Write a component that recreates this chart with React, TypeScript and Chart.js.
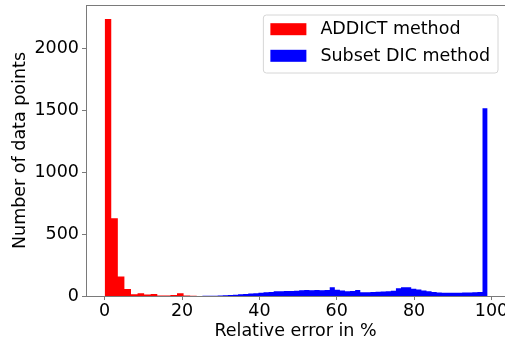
import { useEffect, useRef } from "react";
import { Chart, registerables } from "chart.js";

Chart.register(...registerables);

const RED_LABEL = "ADDICT method";
const BLUE_LABEL = "Subset DIC method";
const X_LABEL = "Relative error in %";
const Y_LABEL = "Number of data points";

// histogram bins (left edge of first bin and bin width, in %)
const RED_BIN_START = 0;
const RED_BIN_WIDTH = 1.7;
const RED_COUNTS = [2235, 628, 158, 57, 14, 22, 12, 16, 5, 5, 8, 22, 4, 2, 1];

const BLUE_BIN_START = 20;
const BLUE_BIN_WIDTH = 1.3167;
const BLUE_COUNTS = [
  0, 0, 0, 0, 2, 2, 3, 4, 6, 9,
  10, 14, 16, 20, 22, 26, 30, 32, 38, 38,
  40, 40, 42, 46, 48, 46, 48, 46, 48, 70,
  50, 44, 38, 40, 48, 30, 30, 32, 34, 36,
  38, 42, 62, 70, 70, 58, 52, 44, 38, 32,
  28, 26, 26, 27, 27, 28, 29, 30, 32, 1515,
];

const X_TICKS = [0, 20, 40, 60, 80, 100];
const Y_TICKS = [0, 500, 1000, 1500, 2000];

const X_MIN = -4.83;
const X_MAX = 103.5;
const Y_MAX = 2347;

const RED = "#ff0000";
const BLUE = "#0000ff";
const SPINE = "#7a7a7a";
const FONT_FAMILY = '"DejaVu Sans", sans-serif';
const FONT_SIZE = 17.5;

// outline of the histogram bars: each bin contributes its two top corners
function histPoints(start: number, width: number, counts: number[]) {
  const pts: { x: number; y: number }[] = [{ x: start, y: 0 }];
  counts.forEach((c, i) => {
    pts.push({ x: start + i * width, y: c });
    pts.push({ x: start + (i + 1) * width, y: c });
  });
  pts.push({ x: start + counts.length * width, y: 0 });
  return pts;
}

const frameLegendPlugin = {
  id: "frameLegend",
  afterDraw(chart: any) {
    const { ctx, chartArea } = chart;
    ctx.save();
    // top spine
    ctx.strokeStyle = SPINE;
    ctx.lineWidth = 1;
    ctx.beginPath();
    ctx.moveTo(chartArea.left, chartArea.top + 0.5);
    ctx.lineTo(chartArea.right, chartArea.top + 0.5);
    ctx.stroke();

    // legend (matplotlib style, upper right inside axes)
    ctx.font = `${FONT_SIZE}px ${FONT_FAMILY}`;
    const items = chart.data.datasets.map((d: any) => ({
      label: d.label as string,
      color: d.backgroundColor as string,
    }));
    const maxW = Math.max(...items.map((it: any) => ctx.measureText(it.label).width));
    const padL = 7;
    const patchW = 36;
    const patchH = 12;
    const gap = 14;
    const padR = 8;
    const w = padL + patchW + gap + maxW + padR;
    const h = 58;
    const right = chartArea.right - 7;
    const left = right - w;
    const top = chartArea.top + 10;
    const r = 3;
    ctx.beginPath();
    ctx.moveTo(left + r, top);
    ctx.lineTo(left + w - r, top);
    ctx.arcTo(left + w, top, left + w, top + r, r);
    ctx.lineTo(left + w, top + h - r);
    ctx.arcTo(left + w, top + h, left + w - r, top + h, r);
    ctx.lineTo(left + r, top + h);
    ctx.arcTo(left, top + h, left, top + h - r, r);
    ctx.lineTo(left, top + r);
    ctx.arcTo(left, top, left + r, top, r);
    ctx.closePath();
    ctx.fillStyle = "rgba(255,255,255,0.8)";
    ctx.fill();
    ctx.strokeStyle = "#d6d6d6";
    ctx.lineWidth = 1;
    ctx.stroke();

    const rowCenters = [top + 14.2, top + 40.8];
    items.forEach((it: any, i: number) => {
      const cy = rowCenters[i];
      ctx.fillStyle = it.color;
      ctx.fillRect(left + padL, cy - patchH / 2, patchW, patchH);
      ctx.fillStyle = "#000000";
      ctx.textAlign = "left";
      ctx.textBaseline = "middle";
      ctx.fillText(it.label, left + padL + patchW + gap, cy + 0.5);
    });
    ctx.restore();
  },
};

export default function App() {
  const canvasRef = useRef<HTMLCanvasElement | null>(null);

  useEffect(() => {
    document.body.style.margin = "0";
    const canvas = canvasRef.current;
    if (!canvas) return;
    const font = { family: FONT_FAMILY, size: FONT_SIZE };
    const chart = new Chart(canvas, {
      type: "line",
      data: {
        datasets: [
          {
            label: RED_LABEL,
            data: histPoints(RED_BIN_START, RED_BIN_WIDTH, RED_COUNTS),
            fill: "origin",
            tension: 0,
            backgroundColor: RED,
            borderColor: "rgba(0,0,0,0)",
            borderWidth: 0,
            pointRadius: 0,
          },
          {
            label: BLUE_LABEL,
            data: histPoints(BLUE_BIN_START, BLUE_BIN_WIDTH, BLUE_COUNTS),
            fill: "origin",
            tension: 0,
            backgroundColor: BLUE,
            borderColor: "rgba(0,0,0,0)",
            borderWidth: 0,
            pointRadius: 0,
          },
        ],
      },
      options: {
        animation: false,
        responsive: false,
        maintainAspectRatio: false,
        layout: { padding: { top: 5, right: 0, bottom: 0, left: 0 } },
        plugins: {
          legend: { display: false },
          tooltip: { enabled: false },
        },
        scales: {
          x: {
            type: "linear",
            min: X_MIN,
            max: X_MAX,
            afterBuildTicks: (s: any) => {
              s.ticks = X_TICKS.map((v) => ({ value: v }));
            },
            afterFit: (s: any) => {
              s.height = 49;
              s.paddingRight = 0;
              s.paddingLeft = 0;
            },
            ticks: {
              font,
              color: "#000000",
              padding: 1,
              maxRotation: 0,
              includeBounds: false,
              callback: (v: any) => String(v),
            },
            grid: {
              display: true,
              drawOnChartArea: false,
              drawTicks: true,
              tickLength: 4,
              tickColor: SPINE,
            },
            border: { display: true, color: SPINE, width: 1 },
            title: {
              display: true,
              text: X_LABEL,
              font,
              color: "#000000",
              padding: { top: 0, bottom: 3 },
            },
          },
          y: {
            type: "linear",
            min: 0,
            max: Y_MAX,
            afterBuildTicks: (s: any) => {
              s.ticks = Y_TICKS.map((v) => ({ value: v }));
            },
            afterFit: (s: any) => {
              s.width = 86;
              s.paddingTop = 0;
              s.paddingBottom = 0;
            },
            ticks: {
              font,
              color: "#000000",
              padding: 3,
              includeBounds: false,
              callback: (v: any) => String(v),
            },
            grid: {
              display: true,
              drawOnChartArea: false,
              drawTicks: true,
              tickLength: 4,
              tickColor: SPINE,
            },
            border: { display: true, color: SPINE, width: 1 },
            title: {
              display: true,
              text: Y_LABEL,
              font,
              color: "#000000",
              padding: { top: 10, bottom: 0 },
            },
          },
        },
      },
      plugins: [frameLegendPlugin],
    } as any);
    return () => chart.destroy();
  }, []);

  return (
    <div style={{ width: 505, height: 345, overflow: "hidden", background: "#ffffff" }}>
      <canvas ref={canvasRef} width={505} height={345} style={{ display: "block" }} />
    </div>
  );
}
